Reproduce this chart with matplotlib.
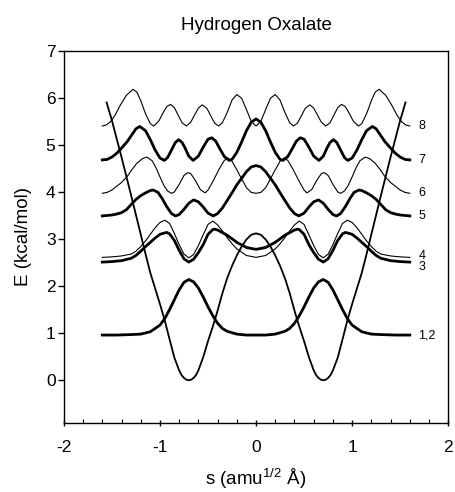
import numpy as np
import matplotlib
matplotlib.use("Agg")
import matplotlib.pyplot as plt

plt.rcParams['font.family'] = ['Liberation Sans', 'DejaVu Sans']
plt.rcParams['mathtext.fontset'] = 'custom'
plt.rcParams['mathtext.rm'] = 'Liberation Sans'
plt.rcParams['axes.unicode_minus'] = False

# s >= 0 half only (the figure is mirror symmetric)
pot_s = [0, 0.05, 0.1, 0.15, 0.2, 0.25, 0.3, 0.35, 0.4, 0.45, 0.5, 0.55, 0.6, 0.625, 0.65, 0.675, 0.7,
         0.725, 0.75, 0.775, 0.8, 0.85, 0.9, 0.95, 1.0, 1.05, 1.1, 1.15, 1.2, 1.3, 1.4, 1.5, 1.555]
pot_e = [3.12, 3.09, 2.99, 2.84, 2.65, 2.43, 2.17, 1.85, 1.48, 1.14, 0.83, 0.49, 0.21, 0.11, 0.05, 0.012, 0.0,
         0.012, 0.05, 0.11, 0.21, 0.48, 0.87, 1.27, 1.62, 1.95, 2.28, 2.68, 3.10, 3.93, 4.74, 5.52, 5.90]

s12 = [0, 0.1, 0.2, 0.3, 0.35, 0.4, 0.45, 0.5, 0.55, 0.6, 0.65, 0.7, 0.75, 0.8, 0.85, 0.9,
       0.95, 1.0, 1.1, 1.2, 1.3, 1.45, 1.6]
e12 = [0.96, 0.96, 0.98, 1.04, 1.10, 1.21, 1.37, 1.56, 1.77, 1.96, 2.09, 2.14, 2.08, 1.92, 1.71, 1.50,
       1.31, 1.17, 1.03, 0.98, 0.97, 0.96, 0.96]

s3 = [0, 0.1, 0.2, 0.3, 0.4, 0.43, 0.45, 0.5, 0.55, 0.6, 0.65, 0.7, 0.75, 0.8, 0.85, 0.9, 0.93,
      1.0, 1.05, 1.1, 1.15, 1.2, 1.25, 1.3, 1.4, 1.5, 1.6]
e3 = [2.78, 2.82, 2.93, 3.08, 3.19, 3.21, 3.20, 3.10, 2.88, 2.71, 2.57, 2.51, 2.58, 2.76, 2.97, 3.11, 3.14,
      3.10, 3.02, 2.93, 2.84, 2.74, 2.65, 2.59, 2.54, 2.52, 2.51]

s4 = [0, 0.1, 0.2, 0.25, 0.3, 0.35, 0.4, 0.45, 0.5, 0.55, 0.6, 0.65, 0.7, 0.75, 0.8, 0.85, 0.9, 0.95,
      1.0, 1.05, 1.1, 1.15, 1.2, 1.25, 1.3, 1.4, 1.5, 1.6]
e4 = [2.61, 2.65, 2.79, 2.90, 3.03, 3.17, 3.30, 3.38, 3.31, 3.09, 2.86, 2.67, 2.60, 2.68, 2.88, 3.12, 3.33, 3.40,
      3.35, 3.24, 3.10, 2.96, 2.84, 2.74, 2.68, 2.64, 2.62, 2.61]

s5 = [0, 0.05, 0.1, 0.15, 0.2, 0.25, 0.3, 0.35, 0.4, 0.445, 0.5, 0.55, 0.6, 0.65, 0.7, 0.75, 0.8, 0.838,
      0.88, 0.93, 0.98, 1.02, 1.07, 1.1, 1.15, 1.2, 1.25, 1.3, 1.35, 1.4, 1.45, 1.5, 1.6]
e5 = [4.56, 4.53, 4.43, 4.29, 4.15, 3.98, 3.82, 3.66, 3.54, 3.49, 3.55, 3.68, 3.79, 3.83, 3.76, 3.63, 3.52, 3.49,
      3.54, 3.69, 3.87, 3.99, 4.04, 4.03, 3.98, 3.92, 3.84, 3.73, 3.62, 3.56, 3.53, 3.51, 3.49]

s6 = [0, 0.05, 0.1, 0.15, 0.2, 0.25, 0.29, 0.33, 0.38, 0.45, 0.5, 0.53, 0.58, 0.63, 0.68, 0.71, 0.75, 0.8,
      0.85, 0.88, 0.92, 0.96, 1.0, 1.04, 1.08, 1.135, 1.18, 1.24, 1.3, 1.34, 1.4, 1.45, 1.5, 1.55, 1.6]
e6 = [3.97, 3.99, 4.09, 4.28, 4.47, 4.65, 4.72, 4.67, 4.50, 4.22, 4.04, 3.98, 4.05, 4.24, 4.39, 4.41, 4.35, 4.16,
      4.00, 3.97, 4.02, 4.14, 4.32, 4.51, 4.66, 4.74, 4.71, 4.61, 4.45, 4.33, 4.20, 4.12, 4.04, 3.99, 3.97]

s7 = [0, 0.05, 0.1, 0.15, 0.2, 0.25, 0.28, 0.33, 0.38, 0.42, 0.46, 0.5, 0.55, 0.6, 0.655, 0.7, 0.74, 0.77,
      0.805, 0.84, 0.88, 0.92, 0.955, 1.0, 1.05, 1.1, 1.15, 1.21, 1.25, 1.3, 1.34, 1.4, 1.45, 1.5, 1.55, 1.6]
e7 = [5.55, 5.48, 5.30, 5.06, 4.84, 4.69, 4.67, 4.75, 4.93, 5.08, 5.15, 5.12, 4.95, 4.76, 4.67, 4.76, 4.94, 5.05,
      5.11, 5.05, 4.89, 4.73, 4.67, 4.72, 4.89, 5.11, 5.30, 5.39, 5.34, 5.19, 5.07, 4.93, 4.82, 4.74, 4.69, 4.68]

s8 = [0, 0.05, 0.1, 0.15, 0.2, 0.25, 0.3, 0.35, 0.39, 0.43, 0.47, 0.51, 0.56, 0.6, 0.64, 0.68, 0.725, 0.77,
      0.81, 0.85, 0.89, 0.93, 0.97, 1.01, 1.065, 1.1, 1.15, 1.2, 1.24, 1.28, 1.35, 1.41, 1.47, 1.52, 1.56, 1.6]
e8 = [5.40, 5.50, 5.75, 5.99, 6.07, 5.95, 5.69, 5.47, 5.40, 5.46, 5.61, 5.77, 5.85, 5.78, 5.63, 5.48, 5.40, 5.47,
      5.63, 5.79, 5.86, 5.81, 5.67, 5.51, 5.40, 5.45, 5.66, 5.94, 6.12, 6.18, 6.05, 5.85, 5.62, 5.48, 5.42, 5.40]

level_names = ["8", "7", "6", "5", "4", "3", "1,2"]
level_label_e = [5.40, 4.67, 3.97, 3.49, 2.64, 2.40, 0.96]


def mirror(s, e):
    s = np.asarray(s, dtype=float)
    e = np.asarray(e, dtype=float)
    return np.concatenate([-s[::-1], s[1:]]), np.concatenate([e[::-1], e[1:]])


fig = plt.figure(figsize=(4.56, 4.92), dpi=100)
ax = fig.add_axes([0.140, 0.141, 0.843, 0.756])

THICK = 2.0
THIN = 0.8

ax.plot(*mirror(pot_s, pot_e), color='black', lw=1.3)
ax.plot(*mirror(s12, e12), color='black', lw=THICK)
ax.plot(*mirror(s3, e3), color='black', lw=THICK)
ax.plot(*mirror(s4, e4), color='black', lw=THIN)
ax.plot(*mirror(s5, e5), color='black', lw=THICK)
ax.plot(*mirror(s6, e6), color='black', lw=THIN)
ax.plot(*mirror(s7, e7), color='black', lw=THICK)
ax.plot(*mirror(s8, e8), color='black', lw=THIN)

for name, e in zip(level_names, level_label_e):
    ax.text(1.69, e, name, fontsize=9, ha='left', va='center')

ax.set_xlim(-2, 2)
ax.set_ylim(-0.9, 7)
ax.set_xticks([-2, -1, 0, 1, 2])
ax.set_xticks(np.arange(-2, 2.01, 0.2), minor=True)
ax.set_yticks(range(0, 8))
ax.tick_params(axis='x', which='major', direction='inout', length=5, width=1, pad=10, labelsize=12.5)
ax.tick_params(axis='x', which='minor', direction='in', length=3, width=0.8)
ax.tick_params(axis='y', which='major', direction='out', length=4, width=1, pad=2, labelsize=12.5)
for sp in ax.spines.values():
    sp.set_linewidth(1.0)

ax.set_title("Hydrogen Oxalate", fontsize=13.5, pad=15)
ax.set_xlabel("s (amu$^{1/2}$ Å)", fontsize=13.5, labelpad=8)
ax.set_ylabel("E (kcal/mol)", fontsize=13.5, labelpad=10)

fig.savefig("out.png", dpi=100)
